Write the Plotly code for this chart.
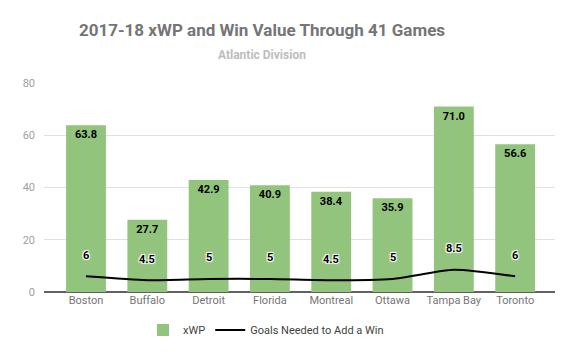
import plotly.graph_objects as go

teams = ["Boston", "Buffalo", "Detroit", "Florida", "Montreal", "Ottawa", "Tampa Bay", "Toronto"]
xwp = [63.8, 27.7, 42.9, 40.9, 38.4, 35.9, 71.0, 56.6]
goals_needed = [6, 4.5, 5, 5, 4.5, 5, 8.5, 6]
goal_labels = ["6", "4.5", "5", "5", "4.5", "5", "8.5", "6"]
yticks = [0, 20, 40, 60, 80]

FONT = "Roboto"
fig = go.Figure()
fig.add_trace(go.Bar(
    x=teams, y=xwp, name="xWP",
    marker=dict(color="#93c47d", line=dict(width=0)),
    width=0.65,
    text=[f"{v:.1f}" for v in xwp],
    textposition="inside", insidetextanchor="end",
    textangle=0,
    textfont=dict(family=FONT, size=11, color="#000000", weight="bold"),
    cliponaxis=False,
))
fig.add_trace(go.Scatter(
    x=teams, y=goals_needed, name="Goals Needed to Add a Win",
    mode="lines", line=dict(color="#000000", width=2, shape="spline", smoothing=0.6),
))
for t, g, lab in zip(teams, goals_needed, goal_labels):
    fig.add_annotation(
        x=t, y=g, text=f"<b>{lab}</b>", showarrow=False, yshift=21,
        font=dict(family=FONT, size=11, color="#000000",
                  shadow="1px 1px 1px white, -1px -1px 1px white, 1px -1px 1px white, -1px 1px 1px white"),
    )

PLOT_L, PLOT_R, PLOT_T, PLOT_B = 44, 555, 83, 292
CENTER_X = 262
fig.add_annotation(
    text="<b>Atlantic Division</b>", xref="paper", yref="paper",
    x=(CENTER_X - PLOT_L) / (PLOT_R - PLOT_L), y=(PLOT_B - 55) / (PLOT_B - PLOT_T),
    showarrow=False, yanchor="middle", xanchor="center",
    font=dict(family=FONT, size=12, color="#bdbdbd"),
)

fig.update_layout(
    width=575, height=356,
    margin=dict(l=PLOT_L, r=575 - PLOT_R, t=PLOT_T, b=356 - PLOT_B, pad=0, autoexpand=False),
    paper_bgcolor="white", plot_bgcolor="white",
    font=dict(family=FONT, color="#757575", size=11),
    title=dict(text="<b>2017-18 xWP and Win Value Through 41 Games</b>",
               x=CENTER_X / 575, xanchor="center", xref="container",
               y=1 - 30 / 356, yanchor="middle", yref="container",
               font=dict(family=FONT, size=17, color="#757575")),
    showlegend=True,
    legend=dict(orientation="h", xref="container", yref="container",
                x=266 / 575, xanchor="center", y=1 - 330 / 356, yanchor="middle",
                font=dict(family=FONT, size=11, color="#424242")),
)
fig.update_xaxes(range=[-0.685, 7.65], showgrid=False, showline=False, ticks="",
                 tickfont=dict(family=FONT, size=11, color="#757575"))
fig.update_yaxes(range=[0, 80], tickvals=yticks, gridcolor="#e0e0e0", gridwidth=1,
                 zeroline=True, zerolinecolor="#616161", zerolinewidth=1.5,
                 showline=False, ticks="", ticklabelstandoff=8,
                 tickfont=dict(family=FONT, size=11, color="#9e9e9e"))

fig.write_html("out.html", config={"displayModeBar": False},
               post_script="document.body.style.margin='0';")
